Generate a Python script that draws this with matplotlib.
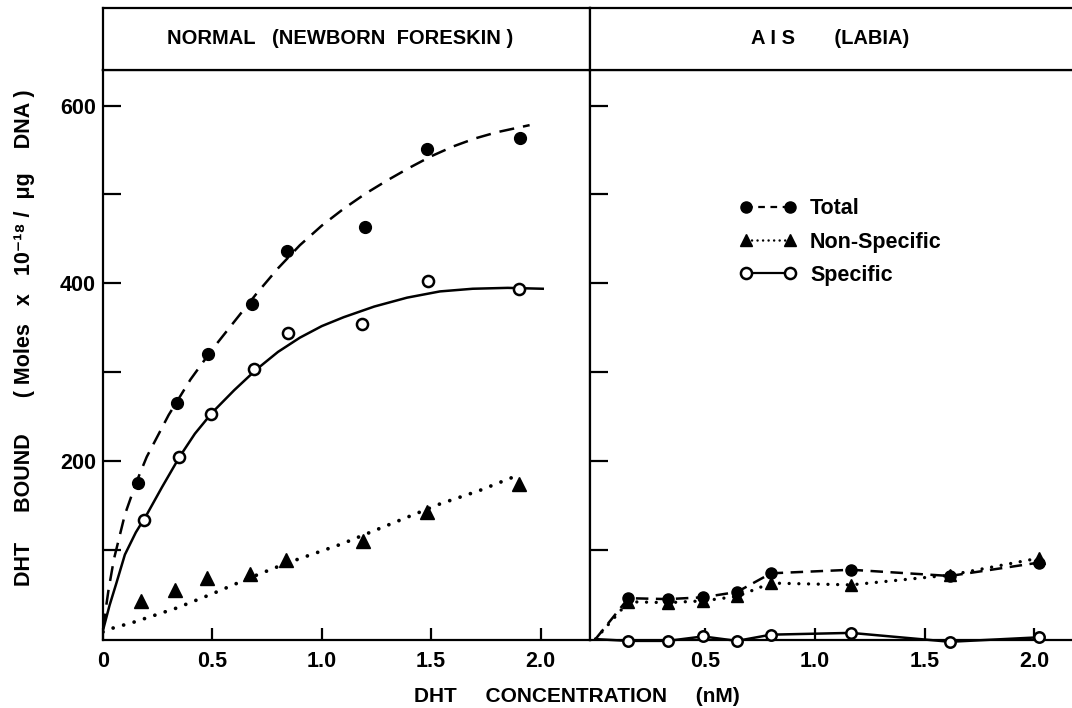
import matplotlib
matplotlib.use("Agg")
import matplotlib.pyplot as plt
from matplotlib.lines import Line2D

# ── Style ────────────────────────────────────────────────────────────────────
INK = "black"
FAMILY = ["Liberation Sans", "DejaVu Sans"]
plt.rcParams.update({
    "font.family":      FAMILY,
    "font.weight":      "bold",
    "axes.linewidth":   1.6,
    "figure.facecolor": "white",
})

DASHED = (0, (6.0, 3.6))
DOTTED = (0, (0.01, 2.9))
TXT = 15.5

# ── Data: normal newborn foreskin ───────────────────────────────────────────
NORM_TOTAL_X = [0.162, 0.337, 0.482, 0.680, 0.843, 1.198, 1.483, 1.906]
NORM_TOTAL_Y = [175, 265, 321, 377, 436, 464, 551, 564]
NORM_SPEC_X  = [0.189, 0.348, 0.494, 0.691, 0.847, 1.183, 1.484, 1.903]
NORM_SPEC_Y  = [134, 205, 253, 304, 344, 354, 403, 394]
NORM_NS_X    = [0.174, 0.330, 0.474, 0.672, 0.835, 1.190, 1.480, 1.903]
NORM_NS_Y    = [43, 55, 69, 73, 89, 110, 143, 174]

# hand-fitted curves through the normal data
TOTAL_FIT_X = [0, 0.025, 0.05, 0.1, 0.15, 0.2, 0.3, 0.4, 0.5, 0.6, 0.7, 0.8,
               0.9, 1.0, 1.1, 1.2, 1.3, 1.4, 1.5, 1.6, 1.7, 1.8, 1.95]
TOTAL_FIT_Y = [12, 55, 90, 140, 175, 205, 252, 292, 326, 357, 388, 417,
               443, 465, 484, 501, 516, 530, 543, 554, 563, 570, 578]
SPEC_FIT_X  = [0, 0.03, 0.06, 0.1, 0.15, 0.2, 0.27, 0.35, 0.42, 0.5, 0.6,
               0.7, 0.8, 0.9, 1.0, 1.1, 1.24, 1.39, 1.54, 1.69, 1.85, 2.01]
SPEC_FIT_Y  = [10, 38, 62, 95, 120, 140, 171, 205, 231, 255, 280,
               303, 323, 339, 352, 362, 374, 384, 391, 394, 395, 394]
NS_FIT_X    = [0, 0.025, 0.14, 0.337, 0.50, 0.672, 0.835, 1.091, 1.30, 1.54, 1.72, 1.883]
NS_FIT_Y    = [8, 11, 19, 35, 51, 69, 85, 107, 128, 152, 167, 183]

# ── Data: AIS labia ─────────────────────────────────────────────────────────
AIS_X       = [0, 0.15, 0.33, 0.49, 0.645, 0.80, 1.165, 1.615, 2.02]
AIS_TOTAL   = [0, 46, 45, 47, 53, 74, 78, 71, 86]
AIS_NONSPEC = [0, 42, 41, 43, 48, 63, 61, 72, 91]
AIS_SPEC    = [0, -2, -2, 3, -2, 5, 7, -3, 2]

Y_TICKS   = [100, 200, 300, 400, 500, 600]
Y_LABELED = {200: "200", 400: "400", 600: "600"}
X_TICKS_L = [0, 0.5, 1.0, 1.5, 2.0]
X_TICKS_R = [0.5, 1.0, 1.5, 2.0]

# ── Layout (figure fractions) ───────────────────────────────────────────────
W, H = 1072, 708
X0, XMID, X1 = 103 / W, 590 / W, 1.0
Y0, Y1, YTOP = 1 - 640 / H, 1 - 70 / H, 1 - 8 / H

fig = plt.figure(figsize=(W / 100, H / 100), dpi=100)
axL = fig.add_axes([X0, Y0, XMID - X0, Y1 - Y0])
axR = fig.add_axes([XMID, Y0, X1 - XMID, Y1 - Y0])
hL = fig.add_axes([X0, Y1, XMID - X0, YTOP - Y1])
hR = fig.add_axes([XMID, Y1, X1 - XMID, YTOP - Y1])


def frame(ax, right=True):
    for s in ax.spines.values():
        s.set_color(INK)
        s.set_linewidth(1.6)
    ax.spines["right"].set_visible(right)


def y_ticks(ax, labels):
    ax.set_yticks(Y_TICKS)
    ax.set_yticklabels([Y_LABELED.get(t, "") if labels else "" for t in Y_TICKS])
    ax.tick_params(axis="y", direction="in", length=13, width=1.6,
                   labelsize=TXT, pad=5, colors=INK)


def x_ticks(ax, ticks, labels):
    ax.set_xticks(ticks)
    ax.set_xticklabels(labels)
    ax.tick_params(axis="x", direction="in", length=9, width=1.6,
                   labelsize=TXT, pad=8, colors=INK)


# ── Panel headers ───────────────────────────────────────────────────────────
for h, title, cx in [(hL, "NORMAL   (NEWBORN  FORESKIN )", 0.487),
                     (hR, "A I S       (LABIA)", 0.498)]:
    frame(h, right=(h is hL))
    h.set_xticks([])
    h.set_yticks([])
    h.text(cx, 0.5, title, transform=h.transAxes,
           ha="center", va="center", fontsize=14.5, color=INK)

# ── Left panel: normal ──────────────────────────────────────────────────────
frame(axL)
axL.set_xlim(0, 2.226)
axL.set_ylim(-1, 640)

axL.plot(TOTAL_FIT_X, TOTAL_FIT_Y, color=INK, lw=1.8, linestyle=DASHED)
axL.plot(SPEC_FIT_X, SPEC_FIT_Y, color=INK, lw=1.8)
axL.plot(NS_FIT_X, NS_FIT_Y, color=INK, lw=2.7, linestyle=DOTTED,
         dash_capstyle="round")

axL.plot(NORM_TOTAL_X, NORM_TOTAL_Y, "o", ms=8.5, color=INK, zorder=4)
axL.plot(NORM_SPEC_X, NORM_SPEC_Y, "o", ms=8, mfc="white", mec=INK, mew=1.8, zorder=4)
axL.plot(NORM_NS_X, NORM_NS_Y, "^", ms=9.5, color=INK, zorder=4)

y_ticks(axL, True)
x_ticks(axL, X_TICKS_L, ["0", "0.5", "1.0", "1.5", "2.0"])

# ── Right panel: AIS ────────────────────────────────────────────────────────
frame(axR, right=False)
axR.set_xlim(-0.025, 2.172)
axR.set_ylim(-1, 640)

axR.plot(AIS_X, AIS_TOTAL, color=INK, lw=1.8, linestyle=(0, (5.0, 3.0)),
         marker="o", ms=8, markevery=slice(1, None), clip_on=False, zorder=4)
axR.plot(AIS_X, AIS_NONSPEC, color=INK, lw=2.4, linestyle=DOTTED,
         dash_capstyle="round", marker="^", ms=9, markevery=slice(1, None),
         clip_on=False, zorder=3)
axR.plot(AIS_X, AIS_SPEC, color=INK, lw=1.8, marker="o", ms=7.5, mfc="white",
         mec=INK, mew=1.8, markevery=slice(1, None), clip_on=False, zorder=5)

y_ticks(axR, False)
x_ticks(axR, X_TICKS_R, ["0.5", "1.0", "1.5", "2.0"])

handles = [
    Line2D([], [], color=INK, lw=1.6, linestyle=(0, (3, 2.5)), marker="o", ms=8),
    Line2D([], [], color=INK, lw=1.8, linestyle=(0, (0.01, 2.2)),
           dash_capstyle="round", marker="^", ms=9),
    Line2D([], [], color=INK, lw=1.6, marker="o", ms=8, mfc="white", mew=1.8),
]
axR.legend(handles, ["Total", "Non-Specific", "Specific"], loc="upper left",
           bbox_to_anchor=(0.310, 0.775), frameon=False, numpoints=2,
           handlelength=2.65, handletextpad=0.63, labelspacing=0.57,
           borderpad=0, borderaxespad=0, fontsize=TXT)

# ── Axis titles ─────────────────────────────────────────────────────────────
fig.text(25 / W, 1 - 338 / H, "DHT     BOUND      ( Moles   x   10⁻¹⁸ /  μg    DNA )",
         rotation=90, ha="center", va="center", fontsize=TXT, color=INK)
fig.text(577 / W, 1 - 697 / H, "DHT     CONCENTRATION     (nM)",
         ha="center", va="center", fontsize=15, color=INK)

fig.savefig("out.png", dpi=100, facecolor="white")
